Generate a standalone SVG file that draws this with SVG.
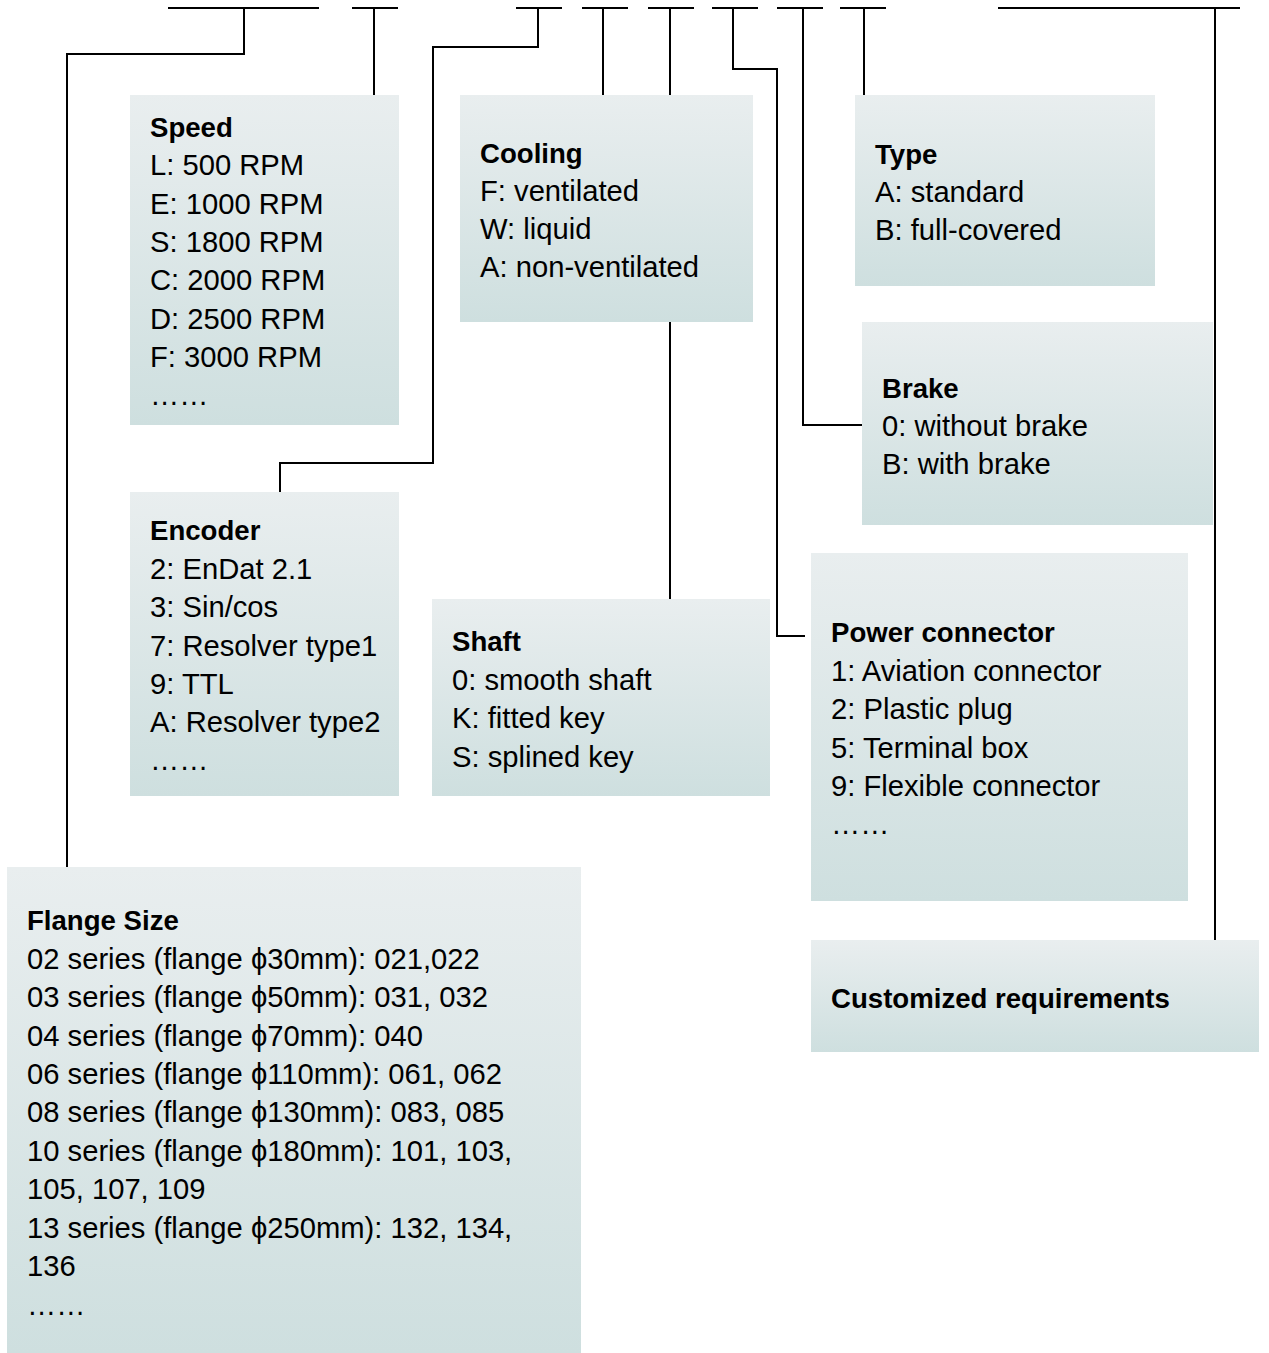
<svg xmlns="http://www.w3.org/2000/svg" width="1269" height="1353" viewBox="0 0 1269 1353">
<defs>
<linearGradient id="g" x1="0" y1="0" x2="0" y2="1">
<stop offset="0" stop-color="#E9EEEF"/>
<stop offset="1" stop-color="#CEDFDF"/>
</linearGradient>
<style>
.box{fill:url(#g);}
.c{fill:none;stroke:#000;stroke-width:2;}
text{font-family:"Liberation Sans",Arial,sans-serif;font-size:29.2px;fill:#000;}
.h{font-weight:bold;font-size:27.6px;}
</style>
</defs>
<rect width="1269" height="1353" fill="#fff"/>
<g id="connectors">
<path class="c" d="M168 8H319M244 8V54H67V868"/>
<path class="c" d="M352 8H398M374 8V95"/>
<path class="c" d="M516 8H562M538 8V47H433V463H280V492"/>
<path class="c" d="M582 8H628M603 8V95"/>
<path class="c" d="M648 8H694M670 8V599"/>
<path class="c" d="M712 8H758M733 8V69H777V636H805"/>
<path class="c" d="M777 8H823M803 8V425H862"/>
<path class="c" d="M840 8H886M864 8V95"/>
<path class="c" d="M998 8H1240M1215 8V940"/>
</g>
<g id="speed">
<rect class="box" x="130" y="95" width="269" height="330"/>
<text x="150" y="137" class="h">Speed</text>
<text x="150" y="175">L: 500 RPM</text>
<text x="150" y="214">E: 1000 RPM</text>
<text x="150" y="252">S: 1800 RPM</text>
<text x="150" y="290">C: 2000 RPM</text>
<text x="150" y="329">D: 2500 RPM</text>
<text x="150" y="367">F: 3000 RPM</text>
<text x="150" y="405">……</text>
</g>
<g id="cooling">
<rect class="box" x="460" y="95" width="293" height="227"/>
<text x="480" y="163" class="h">Cooling</text>
<text x="480" y="201">F: ventilated</text>
<text x="480" y="239">W: liquid</text>
<text x="480" y="277">A: non-ventilated</text>
</g>
<g id="type">
<rect class="box" x="855" y="95" width="300" height="191"/>
<text x="875" y="164" class="h">Type</text>
<text x="875" y="202">A: standard</text>
<text x="875" y="240">B: full-covered</text>
</g>
<g id="brake">
<rect class="box" x="862" y="322" width="351" height="203"/>
<text x="882" y="398" class="h">Brake</text>
<text x="882" y="436">0: without brake</text>
<text x="882" y="474">B: with brake</text>
</g>
<g id="encoder">
<rect class="box" x="130" y="492" width="269" height="304"/>
<text x="150" y="540" class="h">Encoder</text>
<text x="150" y="579">2: EnDat 2.1</text>
<text x="150" y="617">3: Sin/cos</text>
<text x="150" y="656">7: Resolver type1</text>
<text x="150" y="694">9: TTL</text>
<text x="150" y="732">A: Resolver type2</text>
<text x="150" y="770">……</text>
</g>
<g id="shaft">
<rect class="box" x="432" y="599" width="338" height="197"/>
<text x="452" y="651" class="h">Shaft</text>
<text x="452" y="690">0: smooth shaft</text>
<text x="452" y="728">K: fitted key</text>
<text x="452" y="767">S: splined key</text>
</g>
<g id="power">
<rect class="box" x="811" y="553" width="377" height="348"/>
<text x="831" y="642" class="h">Power connector</text>
<text x="831" y="681">1: Aviation connector</text>
<text x="831" y="719">2: Plastic plug</text>
<text x="831" y="758">5: Terminal box</text>
<text x="831" y="796">9: Flexible connector</text>
<text x="831" y="834">……</text>
</g>
<g id="flange">
<rect class="box" x="7" y="867" width="574" height="486"/>
<text x="27" y="930" class="h">Flange Size</text>
<text x="27" y="969">02 series (flange ϕ30mm): 021,022</text>
<text x="27" y="1007">03 series (flange ϕ50mm): 031, 032</text>
<text x="27" y="1046">04 series (flange ϕ70mm): 040</text>
<text x="27" y="1084">06 series (flange ϕ110mm): 061, 062</text>
<text x="27" y="1122">08 series (flange ϕ130mm): 083, 085</text>
<text x="27" y="1161">10 series (flange ϕ180mm): 101, 103,</text>
<text x="27" y="1199">105, 107, 109</text>
<text x="27" y="1238">13 series (flange ϕ250mm): 132, 134,</text>
<text x="27" y="1276">136</text>
<text x="27" y="1315">……</text>
</g>
<g id="custom">
<rect class="box" x="811" y="940" width="448" height="112"/>
<text x="831" y="1008" class="h">Customized requirements</text>
</g>
</svg>
